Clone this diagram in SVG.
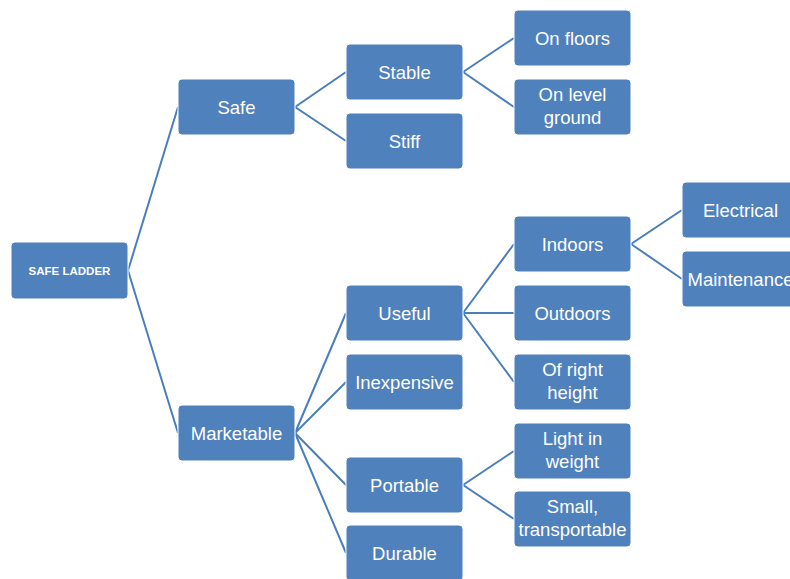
<svg xmlns="http://www.w3.org/2000/svg" width="790" height="579" viewBox="0 0 790 579">
<style>
.n rect{fill:#4F81BD;stroke:#ffffff;stroke-width:1}
.n text{fill:#ffffff;font-family:"Liberation Sans",Arial,sans-serif;font-size:18.5px;text-anchor:middle}
.n text.root{font-size:11.5px;font-weight:bold}
#connectors line{stroke:#4A7EBB;stroke-width:2}
</style>
<rect width="790" height="579" fill="#ffffff"/>
<g id="connectors">
<line x1="128" y1="270.5" x2="178" y2="107"/>
<line x1="128" y1="270.5" x2="178" y2="433"/>
<line x1="295" y1="107" x2="346" y2="72"/>
<line x1="295" y1="107" x2="346" y2="141"/>
<line x1="463" y1="72" x2="514" y2="38"/>
<line x1="463" y1="72" x2="514" y2="107"/>
<line x1="295" y1="433" x2="346" y2="313"/>
<line x1="295" y1="433" x2="346" y2="382"/>
<line x1="295" y1="433" x2="346" y2="485"/>
<line x1="295" y1="433" x2="346" y2="553"/>
<line x1="463" y1="313" x2="514" y2="244"/>
<line x1="463" y1="313" x2="514" y2="313"/>
<line x1="463" y1="313" x2="514" y2="382"/>
<line x1="631" y1="244" x2="682" y2="210"/>
<line x1="631" y1="244" x2="682" y2="279"/>
<line x1="463" y1="485" x2="514" y2="451"/>
<line x1="463" y1="485" x2="514" y2="519"/>
</g>
<g id="root" class="n"><rect x="11" y="242" width="117" height="57" rx="4"/><text class="root" x="69.5" y="274.5">SAFE LADDER</text></g>
<g id="safe" class="n"><rect x="178" y="79" width="117" height="56" rx="4"/><text x="236.5" y="113.5">Safe</text></g>
<g id="marketable" class="n"><rect x="178" y="405" width="117" height="56" rx="4"/><text x="236.5" y="439.5">Marketable</text></g>
<g id="stable" class="n"><rect x="346" y="44" width="117" height="56" rx="4"/><text x="404.5" y="78.5">Stable</text></g>
<g id="stiff" class="n"><rect x="346" y="113" width="117" height="56" rx="4"/><text x="404.5" y="147.5">Stiff</text></g>
<g id="onfloors" class="n"><rect x="514" y="10" width="117" height="56" rx="4"/><text x="572.5" y="44.5">On floors</text></g>
<g id="onlevel" class="n"><rect x="514" y="79" width="117" height="56" rx="4"/><text x="572.5" y="101">On level</text><text x="572.5" y="124">ground</text></g>
<g id="useful" class="n"><rect x="346" y="285" width="117" height="56" rx="4"/><text x="404.5" y="319.5">Useful</text></g>
<g id="inexpensive" class="n"><rect x="346" y="354" width="117" height="56" rx="4"/><text x="404.5" y="388.5">Inexpensive</text></g>
<g id="portable" class="n"><rect x="346" y="457" width="117" height="56" rx="4"/><text x="404.5" y="491.5">Portable</text></g>
<g id="durable" class="n"><rect x="346" y="525" width="117" height="56" rx="4"/><text x="404.5" y="559.5">Durable</text></g>
<g id="indoors" class="n"><rect x="514" y="216" width="117" height="56" rx="4"/><text x="572.5" y="250.5">Indoors</text></g>
<g id="outdoors" class="n"><rect x="514" y="285" width="117" height="56" rx="4"/><text x="572.5" y="319.5">Outdoors</text></g>
<g id="rightheight" class="n"><rect x="514" y="354" width="117" height="56" rx="4"/><text x="572.5" y="376">Of right</text><text x="572.5" y="399">height</text></g>
<g id="light" class="n"><rect x="514" y="423" width="117" height="56" rx="4"/><text x="572.5" y="445">Light in</text><text x="572.5" y="468">weight</text></g>
<g id="small" class="n"><rect x="514" y="491" width="117" height="56" rx="4"/><text x="572.5" y="513">Small,</text><text x="572.5" y="536">transportable</text></g>
<g id="electrical" class="n"><rect x="682" y="182" width="117" height="56" rx="4"/><text x="740.5" y="216.5">Electrical</text></g>
<g id="maintenance" class="n"><rect x="682" y="251" width="117" height="56" rx="4"/><text x="740.5" y="285.5">Maintenance</text></g>
</svg>
